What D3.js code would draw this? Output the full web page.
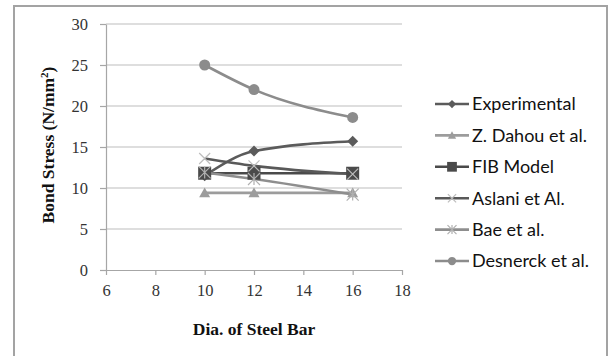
<!DOCTYPE html>
<html>
<head>
<meta charset="utf-8">
<script src="https://cdn.jsdelivr.net/npm/d3@7"></script>
<style>
  body { margin: 0; background: #fff; }
</style>
</head>
<body>
<div id="container"></div>
<script>
/* CONSTANTS AND GLOBALS */
const width = 609;
const height = 356;
const margin = { top: 24, left: 106, right: 207, bottom: 86 };

/* DATA */
const diameters = [10, 12, 16];
const seriesNames = [
  "Experimental",
  "Z. Dahou et al.",
  "FIB Model",
  "Aslani et Al.",
  "Bae et al.",
  "Desnerck et al.",
];
const experimental = [11.5, 14.5, 15.7];
const dahou = [9.4, 9.4, 9.4];
const fib = [11.8, 11.8, 11.8];
const aslani = [13.6, 12.7, 11.7];
const bae = [11.9, 11.1, 9.2];
const desnerck = [25, 22.0, 18.6];
const xTicks = [6, 8, 10, 12, 14, 16, 18];
const yTicks = [0, 5, 10, 15, 20, 25, 30];

const series = [
  { name: seriesNames[0], values: experimental, color: "#5b5b5b", marker: "diamond" },
  { name: seriesNames[1], values: dahou, color: "#9c9c9c", marker: "triangle" },
  { name: seriesNames[2], values: fib, color: "#4a4a4a", marker: "square" },
  { name: seriesNames[3], values: aslani, color: "#595959", marker: "x" },
  { name: seriesNames[4], values: bae, color: "#8e8e8e", marker: "star" },
  { name: seriesNames[5], values: desnerck, color: "#8c8c8c", marker: "circle" },
];

/* SCALES */
const xScale = d3.scaleLinear().domain([6, 18]).range([margin.left, width - margin.right]);
const yScale = d3.scaleLinear().domain([0, 30]).range([height - margin.bottom, margin.top]);

/* SVG */
const svg = d3
  .select("#container")
  .append("svg")
  .attr("width", width)
  .attr("height", height);

// outer chart border
svg
  .append("rect")
  .attr("x", 14)
  .attr("y", 6)
  .attr("width", 593)
  .attr("height", 370)
  .attr("fill", "white")
  .attr("stroke", "#a3a3a3")
  .attr("stroke-width", 2);

// GRIDLINES
svg
  .selectAll(".grid")
  .data(yTicks.filter((d) => d > 0))
  .join("line")
  .attr("class", "grid")
  .attr("x1", margin.left)
  .attr("x2", width - margin.right)
  .attr("y1", (d) => yScale(d))
  .attr("y2", (d) => yScale(d))
  .attr("stroke", "#bdbdbd")
  .attr("stroke-width", 1.2);

// AXES
const xAxis = svg
  .append("g")
  .attr("transform", `translate(0,${yScale(0)})`)
  .call(d3.axisBottom(xScale).tickValues(xTicks).tickSize(5).tickSizeOuter(0).tickPadding(9));

const yAxis = svg
  .append("g")
  .attr("transform", `translate(${margin.left},0)`)
  .call(d3.axisLeft(yScale).tickValues(yTicks).tickSize(6).tickSizeOuter(0).tickPadding(12));

[xAxis, yAxis].forEach((ax) => {
  ax.select(".domain").attr("stroke", "#a6a6a6").attr("stroke-width", 1.2);
  ax.selectAll(".tick line").attr("stroke", "#a6a6a6").attr("stroke-width", 1.2);
  ax.selectAll(".tick text")
    .attr("fill", "#333")
    .style("font-family", "'Liberation Serif', 'Times New Roman', serif")
    .style("font-size", "16.5px");
});

// AXIS LABELS
svg
  .append("text")
  .attr("x", 254)
  .attr("y", 335)
  .attr("text-anchor", "middle")
  .style("font-family", "'Liberation Serif', 'Times New Roman', serif")
  .style("font-weight", "bold")
  .style("font-size", "17.5px")
  .attr("fill", "#111")
  .text("Dia. of Steel Bar");

const yLabel = svg
  .append("text")
  .attr("transform", "translate(54,145) rotate(-90)")
  .attr("text-anchor", "middle")
  .style("font-family", "'Liberation Serif', 'Times New Roman', serif")
  .style("font-weight", "bold")
  .style("font-size", "17.5px")
  .attr("fill", "#111");
yLabel.append("tspan").text("Bond Stress (N/mm");
yLabel.append("tspan").attr("dy", -6).style("font-size", "11px").text("2");
yLabel.append("tspan").attr("dy", 6).text(")");

// MARKERS
function drawMarker(g, type, color, size) {
  const s = size;
  if (type === "diamond") {
    g.append("path")
      .attr("d", `M0,${-s}L${s},0L0,${s}L${-s},0Z`)
      .attr("fill", color);
  } else if (type === "triangle") {
    g.append("path")
      .attr("d", `M0,${-s}L${s},${s * 0.8}L${-s},${s * 0.8}Z`)
      .attr("fill", color);
  } else if (type === "square") {
    g.append("rect")
      .attr("x", -s)
      .attr("y", -s)
      .attr("width", 2 * s)
      .attr("height", 2 * s)
      .attr("fill", color);
  } else if (type === "x") {
    g.append("path")
      .attr("d", `M${-s},${-s}L${s},${s}M${-s},${s}L${s},${-s}`)
      .attr("stroke", "#bdbdbd")
      .attr("stroke-width", 1.2);
  } else if (type === "star") {
    g.append("path")
      .attr("d", `M${-s},${-s}L${s},${s}M${-s},${s}L${s},${-s}M0,${-s}L0,${s}`)
      .attr("stroke", "#b0b0b0")
      .attr("stroke-width", 1.2);
  } else if (type === "circle") {
    g.append("circle").attr("r", s).attr("fill", color);
  }
}

// LINES
const line = d3
  .line()
  .x((d, i) => xScale(diameters[i]))
  .y((d) => yScale(d))
  .curve(d3.curveMonotoneX);

const sizes = { diamond: 5.5, triangle: 5.5, square: 6.5, x: 5.5, star: 6, circle: 5.5 };

series.forEach((s) => {
  svg
    .append("path")
    .datum(s.values)
    .attr("d", line)
    .attr("fill", "none")
    .attr("stroke", s.color)
    .attr("stroke-width", 2.6);
});

series.forEach((s) => {
  s.values.forEach((v, i) => {
    const g = svg
      .append("g")
      .attr("transform", `translate(${xScale(diameters[i])},${yScale(v)})`);
    drawMarker(g, s.marker, s.color, sizes[s.marker]);
  });
});

// LEGEND
const legend = svg
  .selectAll(".legend-item")
  .data(series)
  .join("g")
  .attr("class", "legend-item")
  .attr("transform", (d, i) => `translate(435,${104 + i * 31.4})`);

legend
  .append("line")
  .attr("x1", 0)
  .attr("x2", 34)
  .attr("stroke", (d) => d.color)
  .attr("stroke-width", 2.6);

legend.each(function (d) {
  const g = d3.select(this).append("g").attr("transform", "translate(17,0)");
  drawMarker(g, d.marker, d.color, sizes[d.marker] * 0.75);
});

legend
  .append("text")
  .attr("x", 37)
  .attr("y", 0)
  .attr("dy", "0.35em")
  .style("font-family", "Lato, 'Open Sans', sans-serif")
  .style("font-size", "18px")
  .attr("fill", "#111")
  .text((d) => d.name);
</script>
</body>
</html>
